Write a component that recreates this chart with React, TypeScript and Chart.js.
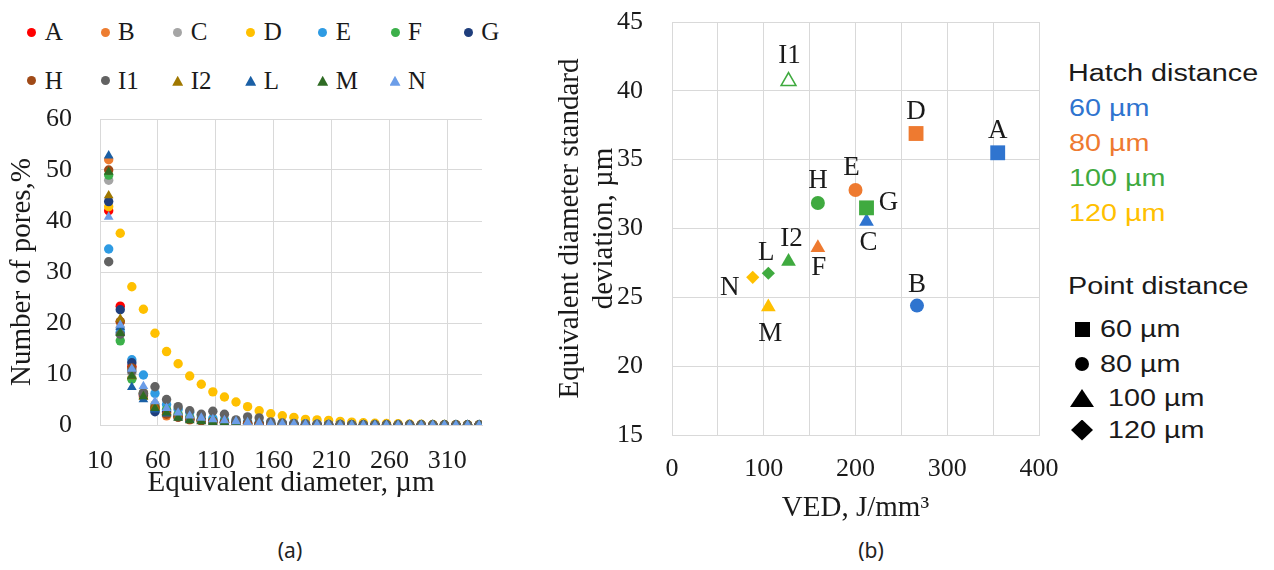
import React, { useEffect, useRef } from 'react';
import { Chart, registerables } from 'chart.js';

Chart.register(...registerables);

// ---------- Chart (a): number of pores vs equivalent diameter ----------
const diameters = [17.5, 27.5, 37.5, 47.5, 57.5, 67.5, 77.5, 87.5, 97.5, 107.5, 117.5, 127.5, 137.5, 147.5, 157.5, 167.5, 177.5, 187.5, 197.5, 207.5, 217.5, 227.5, 237.5, 247.5, 257.5, 267.5, 277.5, 287.5, 297.5, 307.5, 317.5, 327.5, 337.5];
const diameterTicks = [10, 60, 110, 160, 210, 260, 310];

const seriesNames = ['A', 'B', 'C', 'D', 'E', 'F', 'G', 'H', 'I1', 'I2', 'L', 'M', 'N'];

const poresA = [42, 23.3, 11.5, 5.8, 3.2, 2.4, 1.7, 1.2, 0.9, 0.7, 0.5, 0.4, 0.3, 0.25, 0.2, 0.15, 0.1, 0.1, 0.1, 0.05, 0.05, 0, 0, 0, 0, 0, 0, 0, 0, 0, 0, 0, 0];
const poresB = [52, 20.2, 9.2, 5.5, 3.4, 1.8, 1.5, 1.0, 0.8, 0.6, 0.5, 0.3, 0.3, 0.2, 0.15, 0.1, 0.1, 0.05, 0.05, 0, 0, 0, 0, 0, 0, 0, 0, 0, 0, 0, 0, 0, 0];
const poresC = [48, 19, 10.2, 6.4, 4.0, 3.0, 2.2, 1.6, 1.2, 0.9, 0.7, 0.5, 0.4, 0.3, 0.2, 0.15, 0.1, 0.1, 0.05, 0.05, 0, 0, 0, 0, 0, 0, 0, 0, 0, 0, 0, 0, 0];
const poresD = [42.8, 37.6, 27.1, 22.7, 18, 14.4, 12, 9.6, 8, 6.5, 5.5, 4.5, 3.6, 2.8, 2.2, 1.8, 1.5, 1.1, 1.0, 0.9, 0.7, 0.55, 0.45, 0.35, 0.3, 0.25, 0.2, 0.15, 0.12, 0.1, 0.08, 0.06, 0.05];
const poresE = [34.5, 18.2, 12.8, 9.8, 6.2, 4.0, 3.1, 2.5, 1.8, 1.3, 1.0, 0.8, 0.6, 0.5, 0.4, 0.3, 0.25, 0.2, 0.15, 0.1, 0.1, 0.05, 0, 0, 0, 0, 0, 0, 0, 0, 0, 0, 0];
const poresF = [49, 16.5, 9.0, 6.2, 3.6, 3.0, 2.0, 1.4, 1.0, 0.8, 0.6, 0.4, 0.3, 0.2, 0.15, 0.1, 0.1, 0.05, 0, 0, 0, 0, 0, 0, 0, 0, 0, 0, 0, 0, 0, 0, 0];
const poresG = [43.8, 22.6, 12.2, 6.0, 2.6, 2.6, 1.6, 1.1, 0.9, 0.7, 0.5, 0.4, 0.3, 0.2, 0.15, 0.1, 0.1, 0.05, 0, 0, 0, 0, 0, 0, 0, 0, 0, 0, 0, 0, 0, 0, 0];
const poresH = [50, 20.3, 11.2, 6.2, 3.4, 2.1, 1.6, 1.1, 0.9, 0.7, 0.5, 0.4, 0.3, 0.2, 0.15, 0.1, 0.1, 0.05, 0, 0, 0, 0, 0, 0, 0, 0, 0, 0, 0, 0, 0, 0, 0];
const poresI1 = [32, 17.8, 10.6, 6.2, 7.5, 5.0, 3.6, 2.8, 2.1, 2.7, 2.1, 1.0, 1.6, 1.4, 0.6, 0.4, 0.3, 0.2, 0.15, 0.1, 0.1, 0.05, 0, 0, 0, 0, 0, 0, 0, 0, 0, 0, 0];
const poresI2 = [45, 20.8, 9.5, 5.5, 3.6, 2.5, 1.8, 1.3, 1.0, 0.8, 0.6, 0.4, 0.3, 0.25, 0.2, 0.15, 0.1, 0.1, 0.05, 0, 0, 0, 0, 0, 0, 0, 0, 0, 0, 0, 0, 0, 0];
const poresL = [52.8, 19.2, 7.4, 5.0, 3.0, 2.2, 1.5, 1.1, 0.8, 0.6, 0.5, 0.3, 0.25, 0.2, 0.15, 0.1, 0.1, 0.05, 0, 0, 0, 0, 0, 0, 0, 0, 0, 0, 0, 0, 0, 0, 0];
const poresM = [49.6, 18.0, 9.6, 5.6, 3.3, 2.4, 1.4, 0.9, 0.7, 0.5, 0.4, 0.3, 0.2, 0.15, 0.1, 0.1, 0.05, 0, 0, 0, 0, 0, 0, 0, 0, 0, 0, 0, 0, 0, 0, 0, 0];
const poresN = [40.8, 19.6, 11.0, 7.6, 4.6, 3.3, 2.4, 1.8, 1.4, 1.1, 0.9, 0.7, 0.5, 0.4, 0.3, 0.25, 0.2, 0.15, 0.1, 0.1, 0.05, 0, 0, 0, 0, 0, 0, 0, 0, 0, 0, 0, 0];

const poresSeries = [poresA, poresB, poresC, poresD, poresE, poresF, poresG, poresH, poresI1, poresI2, poresL, poresM, poresN];

// ---------- Chart (b): VED vs equivalent diameter standard deviation ----------
const runLabels = ['A', 'B', 'C', 'D', 'E', 'F', 'G', 'H', 'I1', 'I2', 'L', 'M', 'N'];
const vedValues = [355, 267, 212, 266, 200, 159, 212, 159, 127, 127, 105, 105, 88];
const sdValues = [35.5, 24.4, 30.5, 36.9, 32.8, 28.6, 31.5, 31.85, 40.7, 27.6, 26.75, 24.3, 26.45];
const hatchDistance = [60, 60, 60, 80, 80, 80, 100, 100, 100, 100, 100, 120, 120];
const pointDistance = [60, 80, 100, 60, 80, 100, 60, 80, 100, 100, 120, 100, 120];
const hollowRuns = ['I1'];
const vedTickLabels = [0, 100, 200, 300, 400];
const hatchLegend = [60, 80, 100, 120];
const pointLegend = [60, 80, 100, 120];

// ---------- styles ----------
const FONT_SERIF = "'Liberation Serif', 'Times New Roman', serif";
const FONT_SANS = "'Liberation Sans', Arial, sans-serif";
const TEXT = '#1a1a1a';
const GRID = '#d9d9d9';

const seriesColors = ['#FF0000', '#ED7D31', '#A5A5A5', '#FFC000', '#2E9BE3', '#3CB04A', '#1F3E7C', '#A04A17', '#626262', '#A07800', '#1A5FA5', '#2F6B24', '#6B9DE8'];
const seriesShapes = ['circle', 'circle', 'circle', 'circle', 'circle', 'circle', 'circle', 'circle', 'circle', 'triangle', 'triangle', 'triangle', 'triangle'];

const hatchColors: Record<number, string> = { 60: '#2F74CF', 80: '#EE7A30', 100: '#3FAA3F', 120: '#FFC000' };
const pointShapes: Record<number, string> = { 60: 'rect', 80: 'circle', 100: 'triangle', 120: 'rectRot' };
const pointSizes: Record<number, number> = { 60: 10.5, 80: 7, 100: 8.5, 120: 6.6 };
const labelOffsets = [[0, -22], [0, -21], [2, 21], [0, -22], [-4, -22], [1, 20], [22, -5], [0, -22], [1, -25], [3, -23], [-2, -20], [2, 27], [-23, 11]];

const legendColX = [31.7, 105, 177.7, 250.7, 322.7, 395, 468.3];
const legendRowY = [32.3, 80.7];

function zeroPad(s: any) {
  s.paddingTop = 0;
  s.paddingBottom = 0;
  s.paddingLeft = 0;
  s.paddingRight = 0;
}

const pointLabelPlugin = {
  id: 'runLabels',
  afterDatasetsDraw(chart: any) {
    const ctx = chart.ctx;
    const meta = chart.getDatasetMeta(0);
    ctx.save();
    ctx.font = `27px ${FONT_SERIF}`;
    ctx.fillStyle = TEXT;
    ctx.textAlign = 'center';
    ctx.textBaseline = 'middle';
    meta.data.forEach((el: any, i: number) => {
      const [dx, dy] = labelOffsets[i];
      ctx.fillText(runLabels[i], el.x + dx, el.y + dy);
    });
    ctx.restore();
  },
};

export default function App() {
  const refA = useRef<HTMLCanvasElement>(null);
  const refB = useRef<HTMLCanvasElement>(null);

  useEffect(() => {
    const chartA = new Chart(refA.current!, {
      type: 'scatter',
      data: {
        datasets: seriesNames.map((name, i) => ({
          label: name,
          data: diameters.map((d, j) => ({ x: d, y: poresSeries[i][j] })),
          pointStyle: seriesShapes[i] as any,
          pointRadius: seriesShapes[i] === 'triangle' ? 5.6 : 4.7,
          pointBackgroundColor: seriesColors[i],
          pointBorderColor: seriesColors[i],
          pointBorderWidth: 0,
          showLine: false,
          order: seriesNames.length - i,
        })),
      },
      options: {
        responsive: false,
        animation: false,
        devicePixelRatio: 1,
        layout: { padding: { top: 19, right: 18, bottom: 0, left: 0 } },
        plugins: { legend: { display: false }, tooltip: { enabled: false } },
        scales: {
          x: {
            type: 'linear',
            min: 10,
            max: 340,
            afterBuildTicks: (s: any) => {
              s.ticks = diameterTicks.map((v) => ({ value: v }));
            },
            afterFit: (s: any) => {
              s.height = 85;
              zeroPad(s);
            },
            grid: { color: GRID, lineWidth: 1, drawTicks: false },
            border: { color: GRID },
            ticks: { padding: 21, autoSkip: false, maxRotation: 0, color: TEXT, font: { family: FONT_SERIF, size: 26 } },
            title: {
              display: true,
              text: 'Equivalent diameter, µm',
              color: TEXT,
              font: { family: FONT_SERIF, size: 29, lineHeight: 1.2 },
              padding: { top: 0, bottom: 9 },
            },
          },
          y: {
            type: 'linear',
            min: 0,
            max: 60,
            afterFit: (s: any) => {
              s.width = 100;
              zeroPad(s);
            },
            grid: { color: GRID, lineWidth: 1, drawTicks: false },
            border: { color: GRID },
            ticks: { stepSize: 10, padding: 28, color: TEXT, font: { family: FONT_SERIF, size: 26 } },
            title: {
              display: true,
              text: 'Number of pores,%',
              color: TEXT,
              font: { family: FONT_SERIF, size: 29, lineHeight: 1.2 },
              padding: { top: 5, bottom: 0 },
            },
          },
        },
      },
    } as any);

    const chartB = new Chart(refB.current!, {
      type: 'scatter',
      data: {
        datasets: [
          {
            label: 'runs',
            data: vedValues.map((v, i) => ({ x: v, y: sdValues[i] })),
            pointStyle: pointDistance.map((p) => pointShapes[p]) as any,
            pointRadius: pointDistance.map((p) => pointSizes[p]),
            pointBackgroundColor: runLabels.map((r, i) => (hollowRuns.includes(r) ? '#ffffff' : hatchColors[hatchDistance[i]])),
            pointBorderColor: hatchDistance.map((h) => hatchColors[h]),
            pointBorderWidth: runLabels.map((r) => (hollowRuns.includes(r) ? 1.6 : 0)),
            showLine: false,
          },
        ],
      },
      options: {
        responsive: false,
        animation: false,
        devicePixelRatio: 1,
        layout: { padding: { top: 22, right: 21, bottom: 0, left: 0 } },
        plugins: { legend: { display: false }, tooltip: { enabled: false } },
        scales: {
          x: {
            type: 'linear',
            min: 0,
            max: 400,
            afterFit: (s: any) => {
              s.height = 95;
              zeroPad(s);
            },
            grid: { color: GRID, lineWidth: 1, drawTicks: false },
            border: { color: GRID },
            ticks: {
              stepSize: 50,
              autoSkip: false,
              maxRotation: 0,
              padding: 18.6,
              color: TEXT,
              font: { family: FONT_SERIF, size: 26 },
              callback: (v: any) => (vedTickLabels.includes(Number(v)) ? String(v) : ''),
            },
            title: {
              display: true,
              text: 'VED, J/mm³',
              color: TEXT,
              font: { family: FONT_SERIF, size: 29, lineHeight: 1.2 },
              padding: { top: 0, bottom: 4 },
            },
          },
          y: {
            type: 'linear',
            min: 15,
            max: 45,
            afterFit: (s: any) => {
              s.width = 122;
              zeroPad(s);
            },
            grid: { color: GRID, lineWidth: 1, drawTicks: false },
            border: { color: GRID },
            ticks: { stepSize: 5, padding: 29, color: TEXT, font: { family: FONT_SERIF, size: 26 } },
            title: {
              display: true,
              text: ['Equivalent diameter standard', 'deviation, µm'],
              color: TEXT,
              font: { family: FONT_SERIF, size: 29, lineHeight: 1.17 },
              padding: { top: 3, bottom: 0 },
            },
          },
        },
      },
      plugins: [pointLabelPlugin],
    } as any);

    return () => {
      chartA.destroy();
      chartB.destroy();
    };
  }, []);

  const sansLine = (top: number, left: number, color: string, text: string) => (
    <div
      key={`${text}-${top}`}
      style={{
        position: 'absolute',
        left,
        top: top - 15,
        height: 30,
        lineHeight: '30px',
        fontFamily: FONT_SANS,
        fontSize: 23,
        color,
        whiteSpace: 'nowrap',
        transform: 'scaleX(1.25)',
        transformOrigin: 'left center',
      }}
    >
      {text}
    </div>
  );

  const shapeStyle = (p: number): React.CSSProperties => {
    if (p === 60) return { width: 15, height: 15, background: '#000' };
    if (p === 80) return { width: 14, height: 14, background: '#000', borderRadius: '50%' };
    if (p === 100) return { width: 24, height: 18, background: '#000', clipPath: 'polygon(50% 0, 100% 100%, 0 100%)' };
    return { width: 22, height: 21, background: '#000', clipPath: 'polygon(50% 0, 100% 50%, 50% 100%, 0 50%)' };
  };

  const pointRowY = [329, 364, 398, 430];
  const pointTextX = [1100, 1100, 1108, 1108];
  const hatchRowY = [108, 143, 178, 213];

  return (
    <div style={{ position: 'absolute', left: 0, top: 0, width: 1274, height: 570, background: '#ffffff', overflow: 'hidden' }}>
      {/* legend (a) */}
      {seriesNames.map((name, i) => {
        const row = i < 7 ? 0 : 1;
        const col = i < 7 ? i : i - 7;
        const cx = legendColX[col];
        const cy = legendRowY[row];
        const tri = seriesShapes[i] === 'triangle';
        return (
          <div key={name}>
            <div
              style={{
                position: 'absolute',
                left: cx - (tri ? 5.5 : 4.5),
                top: cy - (tri ? 5 : 4.5),
                width: tri ? 11 : 9,
                height: tri ? 10 : 9,
                background: seriesColors[i],
                borderRadius: tri ? 0 : '50%',
                clipPath: tri ? 'polygon(50% 0, 100% 100%, 0 100%)' : undefined,
              }}
            />
            <div
              style={{
                position: 'absolute',
                left: cx + 13,
                top: cy - 20,
                height: 40,
                lineHeight: '40px',
                fontFamily: FONT_SERIF,
                fontSize: 25,
                color: TEXT,
                whiteSpace: 'nowrap',
              }}
            >
              {name}
            </div>
          </div>
        );
      })}

      <canvas ref={refA} width={500} height={410} style={{ position: 'absolute', left: 0, top: 100, width: 500, height: 410 }} />
      <canvas ref={refB} width={510} height={530} style={{ position: 'absolute', left: 550, top: 0, width: 510, height: 530 }} />

      {/* legend (b) */}
      {sansLine(73, 1068, TEXT, 'Hatch distance')}
      {hatchLegend.map((h, i) => sansLine(hatchRowY[i], 1069, hatchColors[h], `${h} µm`))}
      {sansLine(286, 1068, TEXT, 'Point distance')}
      {pointLegend.map((p, i) => {
        const st = shapeStyle(p);
        const w = st.width as number;
        const hgt = st.height as number;
        return (
          <div key={`pl-${p}`}>
            <div style={{ position: 'absolute', left: 1070 + (24 - w) / 2, top: pointRowY[i] - hgt / 2, ...st }} />
            {sansLine(pointRowY[i], pointTextX[i], TEXT, `${p} µm`)}
          </div>
        );
      })}

      {/* captions */}
      <div style={{ position: 'absolute', left: 250, width: 80, top: 535, height: 30, lineHeight: '30px', textAlign: 'center', fontFamily: "'Noto Sans', sans-serif", fontSize: 21, color: '#222' }}>(a)</div>
      <div style={{ position: 'absolute', left: 831, width: 80, top: 535, height: 30, lineHeight: '30px', textAlign: 'center', fontFamily: "'Noto Sans', sans-serif", fontSize: 21, color: '#222' }}>(b)</div>
    </div>
  );
}
